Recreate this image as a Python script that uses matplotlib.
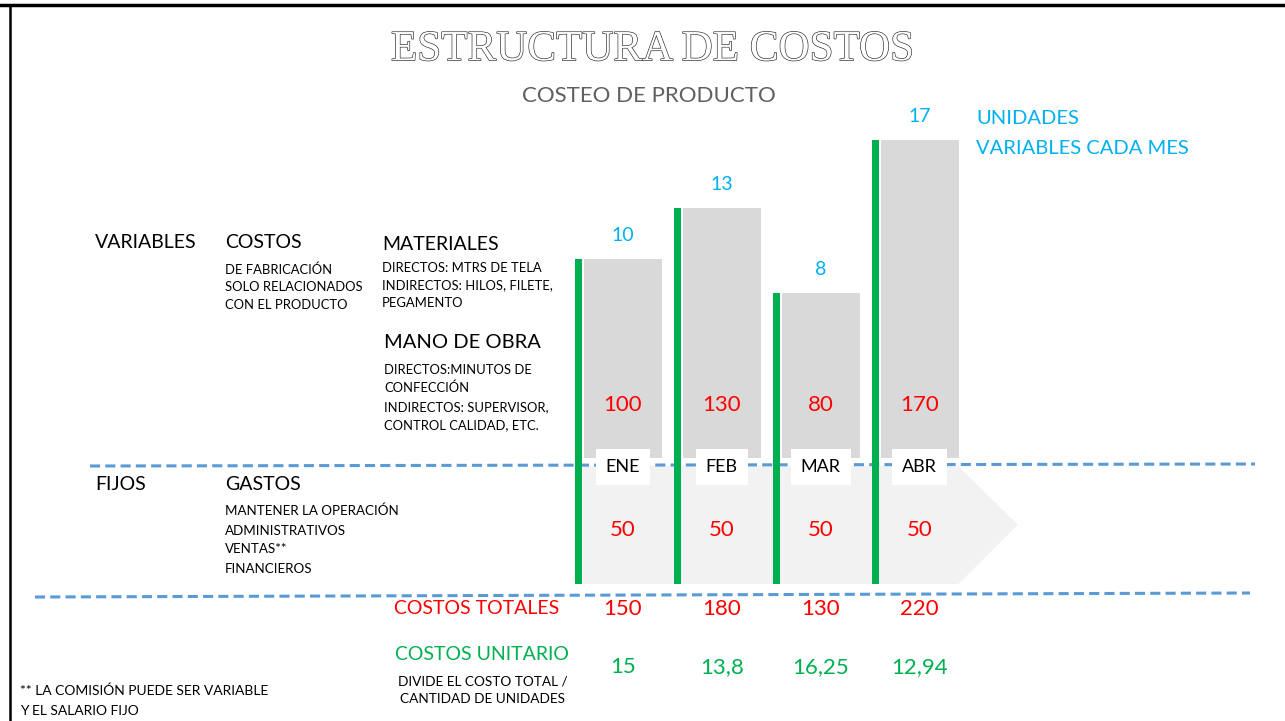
import numpy as np
import matplotlib.pyplot as plt
import matplotlib.patheffects as pe
from matplotlib.patches import Polygon
from matplotlib.transforms import blended_transform_factory

MONTHS = ["ENE", "FEB", "MAR", "ABR"]
UNITS = [10, 13, 8, 17]
VARIABLE_COST = [100, 130, 80, 170]
FIXED_COST = [50, 50, 50, 50]
TOTAL_COST = [150, 180, 130, 220]
UNIT_COST = ["15", "13,8", "16,25", "12,94"]

FONT = "Lato"
BLACK = "#000000"
RED = "#FF0000"
GREEN = "#00B050"
BLUE = "#00B0F0"
DASH = "#5B9BD5"

W, H = 1285, 721
fig = plt.figure(figsize=(W / 100, H / 100), dpi=100)
plt.rcParams["font.family"] = [FONT, "DejaVu Sans"]

# pixel-space axes for the slide furniture
ax = fig.add_axes([0, 0, 1, 1])
ax.set_xlim(0, W)
ax.set_ylim(H, 0)
ax.axis("off")

# data axes for the bars: month index on x, cost on y
bx = fig.add_axes([0, 0, 1, 1])
bx.set_xlim(-6.29, 6.69)
bx.set_ylim(-171.3, 252.35)
bx.axis("off")
bx.patch.set_visible(False)

x = np.arange(len(MONTHS))
row = blended_transform_factory(bx.transData, ax.transData)

# frame
ax.plot([0, W], [5, 5], color=BLACK, lw=2.5)
ax.plot([10, 10], [5, H], color=BLACK, lw=1.8)

# titles
ax.text(652, 50, "ESTRUCTURA DE COSTOS", family="Liberation Serif", fontsize=31,
        color="white", ha="center", va="center",
        path_effects=[pe.Stroke(linewidth=0.9, foreground="#262626"), pe.Normal()])
ax.text(649, 96, "COSTEO DE PRODUCTO", fontsize=16, color="#606060",
        ha="center", va="center")

# fixed-cost arrow band
arrow = Polygon([(-0.4, -21.4), (3.39, -21.4), (3.99, -56.1),
                 (3.39, -90.8), (-0.4, -90.8)], closed=True,
                facecolor="#F2F2F2", edgecolor="none", zorder=1)
bx.add_patch(arrow)

# variable-cost bars
BAR_BASE = -16.7
bx.bar(x, np.array(VARIABLE_COST) - BAR_BASE, bottom=BAR_BASE, width=0.79,
       color="#D9D9D9", zorder=2)

# green bars (total cost spine)
GREEN_BASE = -90.8
bx.bar(x - 0.445, np.array(VARIABLE_COST) - GREEN_BASE, bottom=GREEN_BASE,
       width=0.07, color=GREEN, zorder=4)

# dashed separators
bx.plot([90, 1255], [466, 464], transform=ax.transData, color=DASH, lw=2.2,
        linestyle=(0, (3.3, 1.7)), zorder=3)
bx.plot([35, 1250], [597, 593], transform=ax.transData, color=DASH, lw=2.2,
        linestyle=(0, (3.3, 1.7)), zorder=3)

# labels per month
for i, (m, u, v) in enumerate(zip(MONTHS, UNITS, VARIABLE_COST)):
    bx.annotate(str(u), (i, v), xytext=(0, 17), textcoords="offset points",
                ha="center", va="center", fontsize=14, color=BLUE, zorder=5)
    bx.text(i, 405, str(v), transform=row, ha="center", va="center",
            fontsize=16, color=RED, zorder=5)
    bx.text(i, 467, m, transform=row, ha="center", va="center", fontsize=13,
            color=BLACK, zorder=5,
            bbox=dict(boxstyle="square,pad=0.55", fc="white", ec="none"))
for i, f in enumerate(FIXED_COST):
    bx.text(i, 530, str(f), transform=row, ha="center", va="center",
            fontsize=16, color=RED, zorder=5)
for i, t in enumerate(TOTAL_COST):
    bx.text(i, 609, str(t), transform=row, ha="center", va="center",
            fontsize=16, color=RED, zorder=5)
for i, c in enumerate(UNIT_COST):
    bx.text(i, 667, c, transform=row, ha="center", va="center",
            fontsize=16, color=GREEN, zorder=5)

# right legend text
ax.text(976, 119, "UNIDADES", fontsize=14.5, color=BLUE, va="center")
ax.text(976, 148, "VARIABLES CADA MES", fontsize=14.5, color=BLUE, va="center")

# left description text
SMALL = 9.4
ax.text(95, 242, "VARIABLES", fontsize=14, color=BLACK, va="center")
ax.text(225, 243, "COSTOS", fontsize=14, color=BLACK, va="center")
for yy, s in zip([270, 287, 305], ["DE FABRICACIÓN", "SOLO RELACIONADOS",
                                   "CON EL PRODUCTO"]):
    ax.text(225, yy, s, fontsize=SMALL, color=BLACK, va="center")

ax.text(382, 244, "MATERIALES", fontsize=14, color=BLACK, va="center")
for yy, s in zip([268, 285, 303], ["DIRECTOS: MTRS DE TELA",
                                   "INDIRECTOS: HILOS, FILETE,", "PEGAMENTO"]):
    ax.text(382, yy, s, fontsize=SMALL, color=BLACK, va="center")

ax.text(384, 343, "MANO DE OBRA", fontsize=14.5, color=BLACK, va="center")
for yy, s in zip([370, 388, 407, 425], ["DIRECTOS:MINUTOS DE", "CONFECCIÓN",
                                        "INDIRECTOS: SUPERVISOR,",
                                        "CONTROL CALIDAD, ETC."]):
    ax.text(384, yy, s, fontsize=SMALL, color=BLACK, va="center")

ax.text(95, 485, "FIJOS", fontsize=14, color=BLACK, va="center")
ax.text(225, 484, "GASTOS", fontsize=14, color=BLACK, va="center")
for yy, s in zip([511, 531, 549, 569], ["MANTENER LA OPERACIÓN",
                                        "ADMINISTRATIVOS", "VENTAS**",
                                        "FINANCIEROS"]):
    ax.text(225, yy, s, fontsize=9.6, color=BLACK, va="center")

ax.text(477, 609, "COSTOS TOTALES", fontsize=14, color=RED, ha="center",
        va="center")
ax.text(482, 654, "COSTOS UNITARIO", fontsize=14, color=GREEN, ha="center",
        va="center")
ax.text(483, 681, "DIVIDE EL COSTO TOTAL /", fontsize=9.8, color=BLACK,
        ha="center", va="center")
ax.text(483, 699, "CANTIDAD DE UNIDADES", fontsize=9.8, color=BLACK,
        ha="center", va="center")

ax.text(20, 691, "** LA COMISIÓN PUEDE SER VARIABLE", fontsize=10, color=BLACK,
        va="center")
ax.text(20, 711, "Y EL SALARIO FIJO", fontsize=10, color=BLACK, va="center")

fig.savefig("out.png", dpi=100)
